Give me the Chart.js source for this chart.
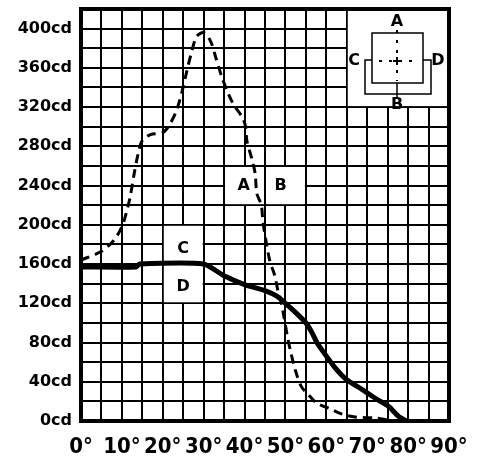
<!DOCTYPE html>
<html>
<head>
<meta charset="utf-8">
<script src="https://cdn.jsdelivr.net/npm/chart.js@4/dist/chart.umd.min.js"></script>
<style>
  body { margin: 0; background: #fff; }
  #wrap { width: 493px; height: 463px; position: relative; }
</style>
</head>
<body>
<div id="wrap"><canvas id="candelaChart"></canvas></div>
<script>
// curve A/B (dashed) - angle in degrees, intensity in cd
const abAngles = [0, 5, 8, 10, 11, 12, 13, 14, 15, 17, 20, 21.5, 23.3, 24.6, 25.9, 27.1, 28.3, 30, 31.7, 33, 34.5, 36, 37.4, 39.4, 40.2, 40.6, 41.8, 42.6, 43, 44.1, 44.5, 45.4, 46.2, 47.4, 48.3, 49, 49.6, 50.4, 51.2, 52.4, 53.9, 55.6, 57.7, 60.6, 63.9, 67.1, 72, 75];
const abValues = [164, 173, 184, 198, 211, 228, 252, 273, 286, 292, 294, 301, 316, 334, 357, 377, 392, 396, 387, 370, 350, 334, 322, 310, 301, 285, 267, 252, 232, 220, 203, 180, 163, 148, 130, 120, 107, 88, 72, 52, 35, 27, 18, 13, 7, 4, 3, 1];

// curve C/D (solid)
const cdAngles = [0, 13.5, 14.3, 30, 35, 40, 45, 48, 50, 52.4, 55, 56.5, 57.7, 59, 62, 65, 68.8, 72, 75.2, 77.6, 79.6];
const cdValues = [157, 157, 160, 160, 148, 139, 133, 127, 120, 111, 100, 90, 80, 72, 55, 42, 32, 23, 15, 5, 0];

const xTicks = [0, 10, 20, 30, 40, 50, 60, 70, 80, 90];
const yTicks = [0, 40, 80, 120, 160, 200, 240, 280, 320, 360, 400];

const toPoints = (xs, ys) => xs.map((x, i) => ({ x: x, y: ys[i] }));

const labelFont = "bold 16px 'DejaVu Sans', sans-serif";

// white boxes with curve letters, drawn over the grid
const labelBoxes = [
  { x0: 35, x1: 45, y0: 220, y1: 260, text: "A", tx: 39.8, ty: 240 },
  { x0: 45, x1: 55, y0: 220, y1: 260, text: "B", tx: 48.8, ty: 240 },
  { x0: 20, x1: 30, y0: 160, y1: 200, text: "C", tx: 25, ty: 176 },
  { x0: 20, x1: 30, y0: 120, y1: 160, text: "D", tx: 25, ty: 137 },
  { x0: 65, x1: 90, y0: 320, y1: 420, text: "" },
];

const decorPlugin = {
  id: "decor",
  beforeDatasetsDraw(chart) {
    const { ctx, scales: { x, y }, chartArea } = chart;
    ctx.save();
    labelBoxes.forEach((b) => {
      const l = x.getPixelForValue(b.x0) + 1;
      const r = x.getPixelForValue(b.x1) - 1;
      const t = y.getPixelForValue(b.y1) + 1;
      const btm = y.getPixelForValue(b.y0) - 1;
      ctx.fillStyle = "#fff";
      ctx.fillRect(l, t, r - l, btm - t);
      if (b.text) {
        ctx.fillStyle = "#000";
        ctx.font = labelFont;
        ctx.textAlign = "center";
        ctx.textBaseline = "middle";
        ctx.fillText(b.text, x.getPixelForValue(b.tx), y.getPixelForValue(b.ty));
      }
    });

    // little orientation sketch in the top right corner
    const ox = chartArea.right, oy = chartArea.top;
    ctx.strokeStyle = "#000";
    ctx.lineWidth = 1.5;
    ctx.strokeRect(ox - 77, oy + 24, 51, 50);
    ctx.beginPath();
    ctx.moveTo(ox - 77, oy + 51); ctx.lineTo(ox - 84, oy + 51); ctx.lineTo(ox - 84, oy + 85);
    ctx.lineTo(ox - 18, oy + 85); ctx.lineTo(ox - 18, oy + 51); ctx.lineTo(ox - 26, oy + 51);
    ctx.moveTo(ox - 52, oy + 74); ctx.lineTo(ox - 52, oy + 90);
    ctx.stroke();
    ctx.lineWidth = 2;
    ctx.setLineDash([3, 7]);
    ctx.beginPath();
    ctx.moveTo(ox - 52, oy + 21); ctx.lineTo(ox - 52, oy + 72);
    ctx.moveTo(ox - 70, oy + 52); ctx.lineTo(ox - 30, oy + 52);
    ctx.stroke();
    ctx.setLineDash([]);
    ctx.beginPath();
    ctx.moveTo(ox - 56, oy + 52); ctx.lineTo(ox - 48, oy + 52);
    ctx.moveTo(ox - 52, oy + 48); ctx.lineTo(ox - 52, oy + 56);
    ctx.stroke();
    ctx.fillStyle = "#000";
    ctx.font = labelFont;
    ctx.textAlign = "center";
    ctx.textBaseline = "middle";
    ctx.fillText("A", ox - 52, oy + 13);
    ctx.fillText("B", ox - 52, oy + 96);
    ctx.fillText("C", ox - 95, oy + 52);
    ctx.fillText("D", ox - 11, oy + 52);
    ctx.restore();
  },
  afterDraw(chart) {
    const { ctx, chartArea: a } = chart;
    ctx.save();
    ctx.strokeStyle = "#000";
    ctx.lineWidth = 4;
    ctx.strokeRect(a.left, a.top, a.right - a.left, a.bottom - a.top);
    ctx.restore();
  },
};

const ctx = document.getElementById("candelaChart").getContext("2d");
const candelaChart = new Chart(ctx, {
  type: "line",
  data: {
    datasets: [
      {
        label: "A/B",
        data: toPoints(abAngles, abValues),
        borderColor: "#000",
        borderWidth: 3,
        borderDash: [9, 6],
        pointRadius: 0,
        tension: 0.3,
        fill: false,
      },
      {
        label: "C/D",
        data: toPoints(cdAngles, cdValues),
        borderColor: "#000",
        borderWidth: 5,
        pointRadius: 0,
        tension: 0.2,
        fill: false,
      },
    ],
  },
  options: {
    responsive: true,
    maintainAspectRatio: false,
    animation: false,
    layout: { padding: { top: 9, right: 44, bottom: 0, left: 0 } },
    plugins: { legend: { display: false }, tooltip: { enabled: false } },
    scales: {
      x: {
        type: "linear",
        min: 0,
        max: 90,
        afterFit: (s) => { s.height = 42; s.paddingLeft = 0; s.paddingRight = 0; },
        afterBuildTicks: (s) => {
          const t = [];
          for (let v = 0; v <= 90; v += 5) t.push({ value: v });
          s.ticks = t;
        },
        ticks: {
          autoSkip: false,
          maxRotation: 0,
          padding: 13,
          color: "#000",
          font: { family: "'Liberation Sans Narrow', 'DejaVu Sans Condensed', 'Liberation Sans', sans-serif", size: 22, weight: "bold" },
          callback: (v) => (xTicks.includes(v) ? v + "°" : ""),
        },
        grid: { color: "#000", lineWidth: 2, drawTicks: false },
        border: { display: false },
      },
      y: {
        min: 0,
        max: 420,
        afterFit: (s) => { s.width = 81; s.paddingTop = 0; s.paddingBottom = 0; },
        ticks: {
          stepSize: 20,
          autoSkip: false,
          padding: 9,
          color: "#000",
          font: { family: "'DejaVu Sans', sans-serif", size: 16, weight: "bold" },
          callback: (v) => (yTicks.includes(v) ? v + "cd" : ""),
        },
        grid: { color: "#000", lineWidth: 2, drawTicks: false },
        border: { display: false },
      },
    },
  },
  plugins: [decorPlugin],
});
</script>
</body>
</html>
